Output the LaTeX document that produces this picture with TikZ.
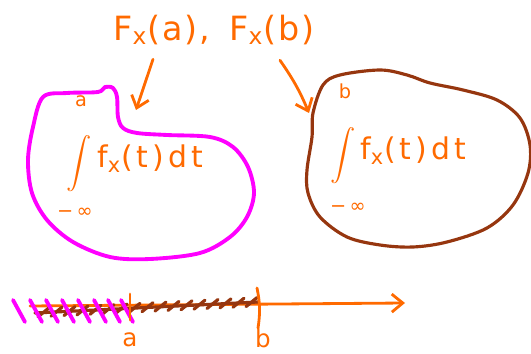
\documentclass[tikz,border=0pt]{standalone}
\usepackage{amsmath}
\usepackage{fontspec}
\setmainfont[LetterSpace=6]{DejaVu Sans}
\newfontfamily\penwide[LetterSpace=14]{DejaVu Sans}
\usetikzlibrary{arrows.meta,positioning}
\definecolor{penorange}{HTML}{FF6A00}
\definecolor{penmagenta}{HTML}{FF00FF}
\definecolor{penbrown}{HTML}{96360F}

\begin{document}
\begin{tikzpicture}[x=0.02cm,y=-0.02cm,line cap=round,line join=round]
  \tikzset{
    ink/.style={text=penorange,inner sep=0pt},
    title/.style={ink,font=\fontsize{19}{22}\selectfont},
    limit/.style={ink,font=\fontsize{11}{13}\selectfont},
    bigint/.style={ink,font=\fontsize{15}{18}\selectfont},
    integrand/.style={ink,font=\penwide\fontsize{17}{20}\selectfont,anchor=base west},
    pointer/.style={draw=penorange,line width=1.6pt,-{Straight Barb[length=2.2mm,width=3.6mm]}},
    tick/.style={draw=penorange,line width=1.6pt},
    hatch/.style={line width=1.8pt}
  }
  \useasboundingbox (0,0) rectangle (531,354);

  % the two distribution values
  \node[title] (Fa) at (162,30) {F\textsubscript{x}(a),};
  \node[title] (Fb) at (272,30) {F\textsubscript{x}(b)};

  % left region
  \draw[penmagenta,line width=2.2pt] plot[smooth cycle,tension=0.55] coordinates {
    (43,97) (67,93) (98,92) (105,87) (113,88) (117,97) (118,117) (123,128)
    (137,133) (167,135) (210,137) (233,147) (248,167) (254,193) (247,217)
    (230,237) (200,253) (150,259) (110,257) (73,242) (47,220) (32,193)
    (28,160) (33,127)};
  \node[limit] (limA) at (81,101) {a};
  \node[bigint] (intA) at (79,164) {$\displaystyle\int$};
  \node[limit] (lowA) at (75,213) {−\,∞};
  \node[integrand] (fA) at (97,168) {f\textsubscript{x}(t)dt};

  % right region
  \draw[penbrown,line width=1.8pt] plot[smooth cycle,tension=0.55] coordinates {
    (340,75) (380,70) (407,75) (430,83) (463,90) (497,100) (520,118)
    (530,145) (528,173) (513,205) (487,228) (447,242) (413,247) (380,245)
    (347,237) (320,217) (308,193) (307,170) (312,137) (313,113) (323,85)};
  \node[limit] (limB) at (345,91) {b};
  \node[bigint] (intB) at (343,156) {$\displaystyle\int$};
  \node[limit] (lowB) at (348,208) {−\,∞};
  \node[integrand] (fB) at (360,160) {f\textsubscript{x}(t)dt};

  % pointers
  \coordinate (tipA) at (136,110);
  \coordinate (tipB) at (309,113);
  \draw[pointer] ([shift={(-9,14)}]Fa.south) -- (tipA);
  \draw[pointer] ([shift={(8,15)}]Fb.south) to[bend left=6] (tipB);

  % real line
  \coordinate (origin) at (30,306);
  \coordinate (axEnd) at (405,303);
  \coordinate (hatchEnd) at (258,302);
  \draw[pointer] (origin) -- (axEnd);
  \draw[penbrown,hatch] (35,313) -- (hatchEnd);
  \foreach \i in {0,...,16}
    \draw[penbrown,hatch] ({38+13*\i},{317-0.0493*(3+13*\i)}) -- ++(11,-9);
  \foreach \x in {13,30,46,62,78,94,108,121}
    \draw[penmagenta,line width=2.2pt] (\x,300) -- ++(12,22);

  \node[limit,font=\fontsize{14}{16}\selectfont] (labA) at (130,340) {a};
  \node[limit,font=\fontsize{14}{16}\selectfont] (labB) at (263,338) {b};
  \coordinate (tickAtop) at (130,294);
  \coordinate (tickBtop) at (257,288);
  \draw[tick] (tickAtop) -- (labA.north |- 0,320);
  \draw[tick] (tickBtop) to[bend left=10] (labB.north -| 258,0) ;
\end{tikzpicture}
\end{document}
